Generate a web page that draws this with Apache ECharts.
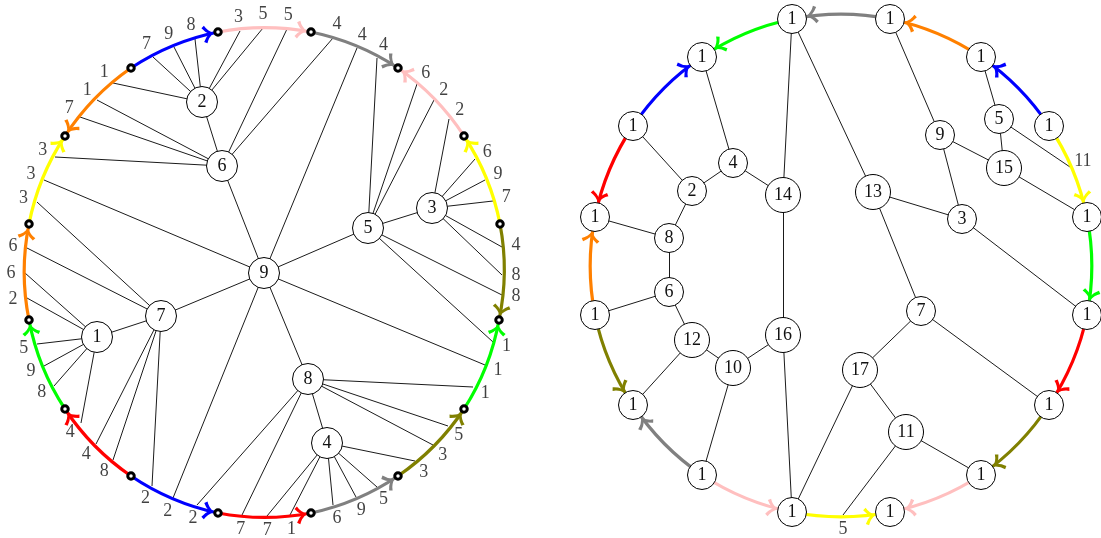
<!DOCTYPE html>
<html><head><meta charset="utf-8">
<script src="https://cdn.jsdelivr.net/npm/echarts@6/dist/echarts.min.js"></script>
<style>html,body{margin:0;padding:0;background:#fff}#c{width:1101px;height:538px}</style>
</head><body><div id="c"></div>
<script>
// ---------------- LEFT DIAGRAM ----------------
// internal nodes: [label, x, y]
const leftNodes = [
  ['2', 202, 102], ['6', 222, 166], ['9', 264, 273], ['5', 368, 228], ['3', 432, 208],
  ['7', 161, 316], ['1', 97, 337], ['8', 308, 379], ['4', 327, 443]
];
const leftEdges = [['2','6'],['6','9'],['9','5'],['5','3'],['9','7'],['7','1'],['9','8'],['8','4']];
// ring dots
const leftRing = [
  [218,32],[311,32],[398,68],[464,136],[500,224],[499,320],[464,409],[398,476],
  [311,513],[218,513],[131,476],[65,409],[29,320],[29,224],[65,136],[131,68]
];
// arcs: [fromDot, toDot, colour]
const leftArcs = [
  [15,0,'blue'],[0,1,'pink'],[1,2,'gray'],[3,2,'pink'],[4,3,'yellow'],[4,5,'olive'],
  [6,5,'green'],[7,6,'olive'],[8,7,'gray'],[9,8,'red'],[10,9,'blue'],[10,11,'red'],
  [11,12,'green'],[12,13,'orange'],[13,14,'yellow'],[15,14,'orange']
];
// leaves on the ring: [x, y, label, node]
const leftLeaves = [
  [113,83,'1','2'],[97,100,'1','6'],[80,117,'7','6'],
  [153,57,'7','2'],[174,47,'9','2'],[195,39,'8','2'],
  [240,31,'3','2'],[263,28,'5','2'],[287,29,'5','6'],
  [333,38,'4','6'],[357,48,'4','9'],[377,58,'4','5'],
  [417,84,'6','5'],[434,100,'2','5'],[449,119,'2','3'],
  [475,159,'6','3'],[485,180,'9','3'],[493,201,'7','3'],
  [502,247,'4','3'],[502,275,'8','3'],[502,295,'8','5'],
  [493,342,'1','5'],[485,365,'1','9'],[473,387,'1','8'],
  [448,426,'5','8'],[433,445,'3','8'],[415,461,'3','4'],
  [377,487,'5','4'],[356,497,'9','4'],[333,505,'6','4'],
  [290,515,'1','4'],[267,516,'7','4'],[242,515,'7','8'],
  [197,505,'2','8'],[173,498,'2','9'],[152,486,'2','7'],
  [113,460,'8','7'],[96,444,'4','7'],[81,423,'4','1'],
  [54,386,'8','1'],[44,366,'9','1'],[37,344,'5','1'],
  [27,298,'2','1'],[25,273,'6','1'],[27,248,'6','7'],
  [37,202,'3','7'],[44,180,'3','9'],[55,157,'3','6']
];

// ---------------- RIGHT DIAGRAM ----------------
const rightRing = [
  [792,19],[890,19],[981,57],[1049,126],[1087,217],[1087,315],[1049,405],[981,475],
  [890,512],[792,512],[702,475],[633,405],[595,315],[595,217],[633,126],[702,57]
];
const rightRingLabels = ['1','1','1','1','1','1','1','1','1','1','1','1','1','1','1','1'];
const rightNodes = [
  ['4',733,163],['2',692,191],['14',783,195],['8',669,238],['6',669,292],['12',692,340],
  ['10',733,368],['16',783,335],['13',873,192],['9',940,135],['5',999,119],['15',1004,168],
  ['3',962,219],['7',921,311],['17',860,370],['11',906,432]
];
const rightEdges = [
  ['r15','4'],['r14','2'],['2','4'],['4','14'],['2','8'],['r13','8'],['8','6'],['r12','6'],
  ['6','12'],['12','r11'],['12','10'],['10','16'],['10','r10'],['14','r0'],['14','16'],
  ['16','r9'],['r0','13'],['r1','9'],['r2','5'],['5','15'],['9','15'],['9','3'],['15','r4'],
  ['13','3'],['13','7'],['3','r5'],['7','17'],['7','r6'],['17','11'],['17','r9'],['11','r7']
];
const rightArcs = [
  [1,0,'gray'],[2,1,'orange'],[3,2,'blue'],[3,4,'yellow'],[4,5,'green'],[5,6,'red'],
  [6,7,'olive'],[7,8,'pink'],[9,8,'yellow'],[10,9,'pink'],[10,11,'gray'],[12,11,'olive'],
  [12,13,'orange'],[14,13,'red'],[14,15,'blue'],[0,15,'green']
];
const rightLeaves = [[1070,167,'11','5'],[843,515,'5','11']];

const COLORS = {blue:'#0000ff', pink:'#ffbfbf', gray:'#808080', yellow:'#ffff00',
  olive:'#808000', green:'#00ff00', red:'#ff0000', orange:'#ff8000'};
const FONT = "'Liberation Serif','DejaVu Serif',serif";

function centerOf(pts){
  let sx=0, sy=0; pts.forEach(p=>{sx+=p[0]; sy+=p[1];});
  return [sx/pts.length, sy/pts.length];
}
const leftC = centerOf(leftRing), rightC = centerOf(rightRing);

function arcItem(ring, c, a){
  const p1 = ring[a[0]], p2 = ring[a[1]];
  const v1 = [p1[0]-c[0], p1[1]-c[1]], v2 = [p2[0]-c[0], p2[1]-c[1]];
  const cr = v1[0]*v2[1]-v1[1]*v2[0], dt = v1[0]*v2[0]+v1[1]*v2[1];
  const th = Math.atan2(Math.abs(cr), dt);
  return {coords:[p1,p2], lineStyle:{color:COLORS[a[2]], curveness: Math.sign(cr)*Math.tan(th/4)}};
}
// open "to"-style arrow head; its tip sits `gap` px before the end of the arc
function arrowSym(gap){
  const H = 11.5;
  const T = 2*gap + H;
  return ['path://M0,0 Q3.2,6.2 9,8.6 L7,11.5 Q2.6,8.8 0,5.2 Q-2.6,8.8 -7,11.5 L-9,8.6 Q-3.2,6.2 0,0 Z M0,' + (-T) + ' L0.01,' + (-T) + ' L0,' + (-T+0.01) + ' Z',
          [18, T + H]];
}

const lmap = {}; leftNodes.forEach(n=>lmap[n[0]]=[n[1],n[2]]);
const rmap = {}; rightNodes.forEach(n=>rmap[n[0]]=[n[1],n[2]]);
rightRing.forEach((p,i)=>rmap['r'+i]=p);

const edgeData = [];
leftEdges.forEach(e=>edgeData.push({coords:[lmap[e[0]], lmap[e[1]]]}));
leftLeaves.forEach(l=>edgeData.push({coords:[lmap[l[3]], [l[0],l[1]]]}));
rightEdges.forEach(e=>edgeData.push({coords:[rmap[e[0]], rmap[e[1]]]}));
rightLeaves.forEach(l=>edgeData.push({coords:[rmap[l[3]], [l[0],l[1]]]}));

function labelPos(l, c, off){
  const dx = l[0]-c[0], dy = l[1]-c[1], d = Math.hypot(dx,dy);
  return {value:[l[0]+dx/d*off, l[1]+dy/d*off], name:l[2]};
}
const labelData = leftLeaves.map(l=>labelPos(l,leftC,14)).concat(rightLeaves.map(l=>labelPos(l,rightC,14)));

const la = arrowSym(4), ra = arrowSym(14.5);
const nodeLabel = {show:true, position:'inside', formatter:'{b}', color:'#111', fontSize:18, fontFamily:FONT};

const chart = echarts.init(document.getElementById('c'));
chart.setOption({
  animation:false,
  grid:{left:0,right:0,top:0,bottom:0},
  xAxis:{type:'value', min:0, max:1101, show:false},
  yAxis:{type:'value', min:0, max:538, inverse:true, show:false},
  series:[
    {type:'lines', coordinateSystem:'cartesian2d', z:2, silent:true,
     lineStyle:{color:'#000', width:0.9, opacity:1}, data:edgeData},
    {type:'lines', coordinateSystem:'cartesian2d', z:3, silent:true,
     symbol:['none', la[0]], symbolSize:[la[1], la[1]],
     lineStyle:{width:3.2, opacity:1}, data:leftArcs.map(a=>arcItem(leftRing,leftC,a))},
    {type:'lines', coordinateSystem:'cartesian2d', z:3, silent:true,
     symbol:['none', ra[0]], symbolSize:[ra[1], ra[1]],
     lineStyle:{width:3.2, opacity:1}, data:rightArcs.map(a=>arcItem(rightRing,rightC,a))},
    {type:'scatter', z:5, silent:true, symbol:'circle', symbolSize:31,
     itemStyle:{color:'#fff', borderColor:'#000', borderWidth:1, opacity:1},
     label:nodeLabel,
     data:leftNodes.map(n=>({name:n[0], value:[n[1],n[2]]}))},
    {type:'scatter', z:5, silent:true, symbol:'circle',
     itemStyle:{color:'#fff', borderColor:'#000', borderWidth:1, opacity:1},
     label:nodeLabel,
     data:rightNodes.map(n=>({name:n[0], value:[n[1],n[2]], symbolSize: n[0].length>1?35:29}))
       .concat(rightRing.map((p,i)=>({name:rightRingLabels[i], value:p, symbolSize:29})))},
    {type:'scatter', z:6, silent:true, symbol:'circle', symbolSize:6.5,
     itemStyle:{color:'#fff', borderColor:'#000', borderWidth:3, opacity:1},
     data:leftRing.map(p=>({value:p}))},
    {type:'scatter', z:6, silent:true, symbol:'circle', symbolSize:1,
     itemStyle:{color:'rgba(0,0,0,0)'},
     label:{show:true, position:'inside', formatter:'{b}', color:'#111', fontSize:18, fontFamily:FONT},
     data:labelData}
  ]
});
</script></body></html>
